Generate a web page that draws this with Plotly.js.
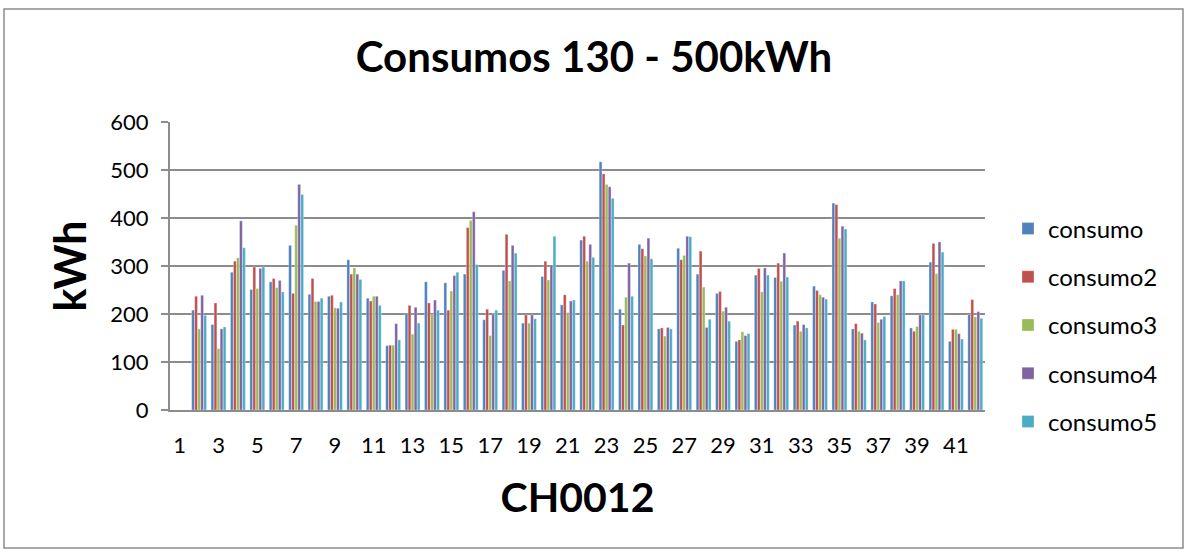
<!DOCTYPE html>
<html>
<head>
<meta charset="utf-8">
<script src="https://cdn.plot.ly/plotly-3.0.1.min.js"></script>
<style>
  html, body { margin: 0; padding: 0; background: #ffffff; }
  #chart { width: 1188px; height: 554px; }
</style>
</head>
<body>
<div id="chart"></div>
<script>
// Categories 1..42 (category 1 has no data)
const categories = ["1","2","3","4","5","6","7","8","9","10","11","12","13","14","15","16","17","18","19","20","21","22","23","24","25","26","27","28","29","30","31","32","33","34","35","36","37","38","39","40","41","42"];
const tickLabels = ["1","3","5","7","9","11","13","15","17","19","21","23","25","27","29","31","33","35","37","39","41"];

const consumo  = [null,208,178,287,251,267,343,241,237,313,233,134,202,267,265,283,188,291,181,278,219,354,517,210,345,169,337,283,243,143,281,276,177,258,431,169,225,238,171,308,143,199];
const consumo2 = [null,237,223,310,298,274,243,274,239,283,227,135,218,223,208,380,210,366,198,310,240,362,492,177,336,171,313,331,247,146,295,306,185,249,428,180,221,253,164,347,168,230];
const consumo3 = [null,169,128,317,253,255,385,226,213,296,237,135,158,199,248,395,155,269,181,271,203,310,470,235,321,154,322,256,206,163,246,268,164,240,358,164,182,240,174,284,168,194];
const consumo4 = [null,239,169,394,295,270,470,226,212,283,237,180,214,229,280,413,200,343,198,302,227,345,465,306,358,172,362,172,214,155,296,327,178,235,383,160,189,269,198,350,159,205];
const consumo5 = [null,197,173,338,298,246,449,233,225,272,218,146,181,208,287,303,208,327,190,362,229,318,441,237,315,169,361,189,185,159,281,277,171,231,377,146,195,269,198,329,148,191];

const seriesNames = ["consumo","consumo2","consumo3","consumo4","consumo5"];
const seriesValues = [consumo, consumo2, consumo3, consumo4, consumo5];
const seriesColors = ["#4F81BD","#C0504D","#9BBB59","#8064A2","#4BACC6"];

const FONT = "Lato, 'Open Sans', 'Liberation Sans', sans-serif";

const traces = seriesNames.map((name, i) => ({
  type: "bar",
  name: name,
  x: categories,
  y: seriesValues[i],
  legendgroup: name,
  marker: { color: seriesColors[i], line: { color: "rgba(255,255,255,0.6)", width: 0.5 } }
}));

// pixel helpers for the frame (plot area: x 170..985, y 122..410)
const L = 170, R = 985, T = 122, B = 410;
const px = v => (v - L) / (R - L);
const py = v => (B - v) / (B - T);

const layout = {
  width: 1188,
  height: 554,
  paper_bgcolor: "#ffffff",
  plot_bgcolor: "#ffffff",
  margin: { l: L, r: 1188 - R, t: T, b: 554 - B },
  barmode: "group",
  bargap: 0.22,
  bargroupgap: 0.08,
  font: { family: FONT, color: "#000000", size: 22 },
  title: {
    text: "<b>Consumos 130 - 500kWh</b>",
    font: { family: FONT, size: 42, color: "#000000" },
    x: 0.5, xref: "container", xanchor: "center",
    y: 1 - 57 / 554, yref: "container", yanchor: "middle"
  },
  xaxis: {
    type: "category",
    tickmode: "array",
    tickvals: tickLabels,
    ticktext: tickLabels,
    tickangle: 0,
    showgrid: false,
    showline: true,
    linecolor: "#8c8c8c",
    linewidth: 2,
    ticks: "",
    ticklabelstandoff: 15,
    tickfont: { family: FONT, size: 22, color: "#000000" },
    title: { text: "<b>CH0012</b>", font: { family: FONT, size: 41, color: "#000000" }, standoff: 26 },
    fixedrange: true
  },
  yaxis: {
    range: [0, 600],
    tickmode: "array",
    tickvals: [0, 100, 200, 300, 400, 500, 600],
    showgrid: true,
    gridcolor: "#8c8c8c",
    gridwidth: 2,
    zeroline: false,
    showline: true,
    linecolor: "#8c8c8c",
    linewidth: 2,
    ticks: "outside",
    ticklen: 7,
    tickwidth: 2,
    tickcolor: "#8c8c8c",
    ticklabelstandoff: 8,
    tickfont: { family: FONT, size: 22, color: "#000000" },
    title: { text: "<b>kWh</b>", font: { family: FONT, size: 43, color: "#000000" }, standoff: 10 },
    fixedrange: true
  },
  legend: {
    x: px(1008), xanchor: "left",
    y: py(325), yanchor: "middle",
    traceorder: "grouped",
    tracegroupgap: 14,
    font: { family: FONT, size: 24, color: "#000000" },
    itemwidth: 30,
    bgcolor: "rgba(0,0,0,0)"
  },
  shapes: [
    {
      type: "rect", xref: "paper", yref: "paper",
      x0: px(4), x1: px(1183), y0: py(548), y1: py(9),
      line: { color: "#8c8c8c", width: 1.5 },
      fillcolor: "rgba(0,0,0,0)",
      layer: "below"
    }
  ],
  showlegend: true
};

Plotly.newPlot("chart", traces, layout, { displayModeBar: false, staticPlot: true });
</script>
</body>
</html>
